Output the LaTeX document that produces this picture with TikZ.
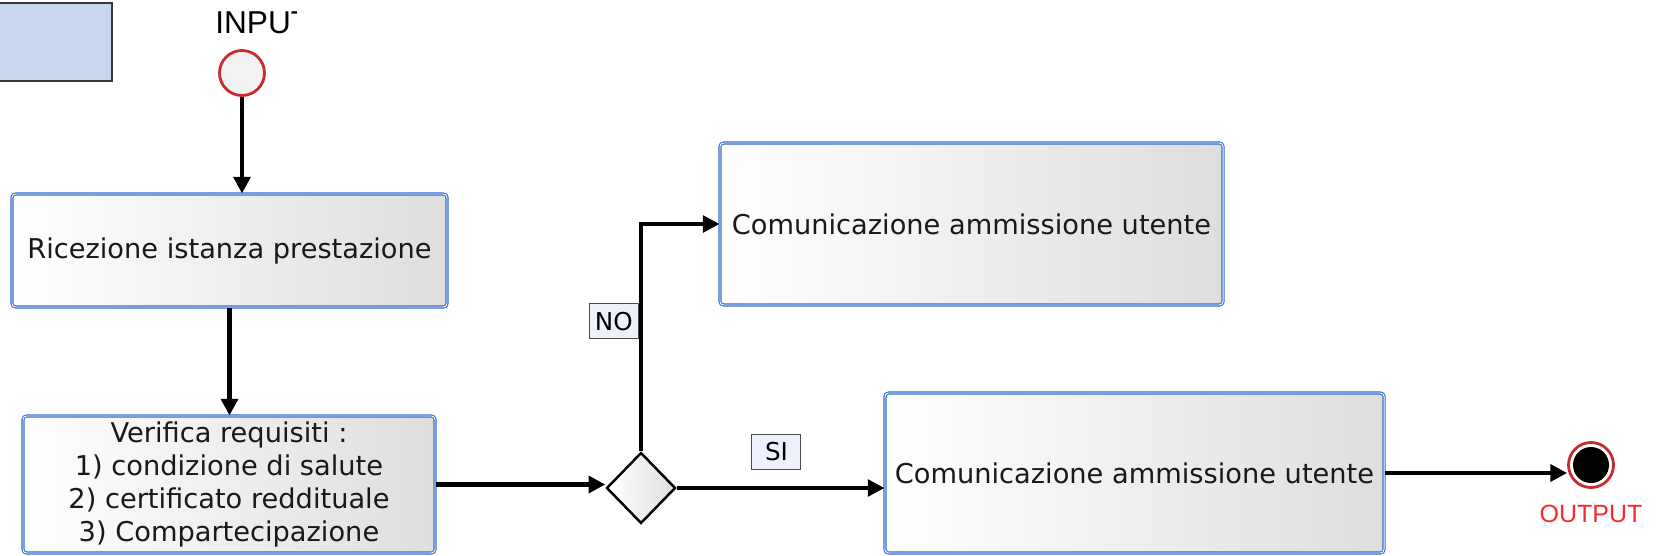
\documentclass[tikz,border=0pt]{standalone}
\usepackage{fontspec}
\usepackage{xcolor}
\usepackage{tikz}
\usetikzlibrary{shapes,arrows,positioning,calc,arrows.meta,shadows}
\newfontfamily\boxfont{DejaVu Sans}
\newfontfamily\arialfont{Liberation Sans}
\definecolor{boxblue}{RGB}{52,108,204}
\definecolor{legblue}{RGB}{198,214,236}
\definecolor{tagfill}{RGB}{238,240,251}
\definecolor{startred}{RGB}{200,44,44}
\definecolor{outred}{RGB}{250,40,40}

\begin{document}
\begin{tikzpicture}[
    task/.style={rectangle, draw=boxblue, double=white, double distance=0.55pt, line width=0.6pt, rounded corners=2pt, left color=white, right color=black!13, font=\boxfont\fontsize{15.5}{18.8}\selectfont, text=black!90, align=center, inner sep=0pt, drop shadow={opacity=0.15, shadow xshift=0.7pt, shadow yshift=-0.7pt}},
    gate/.style={diamond, draw, line width=1.4pt, left color=white, right color=black!12, inner sep=0pt, minimum width=1.38cm, minimum height=1.42cm},
    tag/.style={rectangle, draw=black!70, line width=0.6pt, fill=tagfill, font=\boxfont\fontsize{14}{16}\selectfont, minimum width=0.98cm, minimum height=0.7cm, inner sep=0pt},
    startpt/.style={circle, draw=startred, line width=1.6pt, fill=black!5, minimum size=0.9cm, inner sep=0pt},
    endpt/.style={circle, draw=startred, line width=1.6pt, fill=white, minimum size=0.9cm, inner sep=0pt, path picture={\fill[black] (path picture bounding box.center) circle (0.36cm);}},
    flow/.style={-{Triangle[length=9.5pt, width=9.5pt]}, line width=2.5pt},
]
    \useasboundingbox (0,0) rectangle (33.26,11.10);

    % Legend
    \draw[draw=black!78, line width=0.9pt, fill=legblue] (-0.2,9.48) rectangle (2.24,11.04);

    % Start
    \node[startpt] (in) at (4.84,9.64) {};
    \begin{scope}
        \clip (4.0,10.0) rectangle (5.92,11.1);
        \node[anchor=base west, font=\arialfont\fontsize{18}{20}\selectfont, inner sep=0pt] (inlab) at (4.30,10.44) {INPUT};
    \end{scope}

    % Tasks
    \node[task, minimum width=8.7cm, minimum height=2.26cm] (rec) at (4.59,6.09) {Ricezione istanza prestazione};
    \node[task, minimum width=8.24cm, minimum height=2.74cm] (ver) at (4.58,1.41) {Verifica requisiti :\\1) condizione di salute\\2) certificato reddituale\\3) Compartecipazione};
    \node[gate] (dec) at (12.82,1.34) {};
    \node[task, minimum width=10.06cm, minimum height=3.24cm] (nob) at (19.43,6.62) {Comunicazione ammissione utente};
    \node[task, minimum width=9.98cm, minimum height=3.2cm] (sol) at (22.69,1.64) {Comunicazione ammissione utente};

    % End
    \node[endpt] (out) at (31.82,1.8) {};
    \node[below=0.32cm of out, inner sep=0pt, text=outred, font=\arialfont\fontsize{14.2}{16}\selectfont] (outlab) {OUTPUT};

    % Flows
    \draw[flow] (in) -- (in |- rec.north);
    \draw[flow] (rec.south) -- (rec.south |- ver.north);
    \draw[flow] (ver.east) -- (ver.east -| dec.west);
    \draw[flow, line width=2pt] (dec.east) -- (dec.east -| sol.west) node[tag, pos=0.48, above=0.36cm] (si) {SI};
    \draw[flow] (dec.north) |- (nob.west) node[tag, pos=0.286, anchor=east, xshift=-1.2pt] (no) {NO};
    \draw[flow] (sol.east) -- (sol.east -| out.west);
\end{tikzpicture}
\end{document}
